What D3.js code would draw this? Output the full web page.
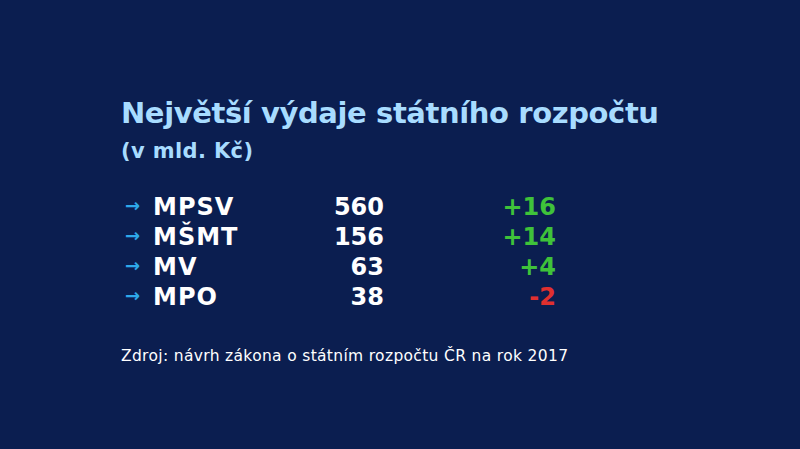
<!DOCTYPE html><html><head><meta charset="utf-8">
<script src="https://cdn.jsdelivr.net/npm/d3@7"></script>
<style>body{margin:0;background:#0b1e50}svg{display:block}</style></head><body>
<script>
const categories=["MPSV","MŠMT","MV","MPO"];
const values=[560,156,63,38];
const changes=[16,14,4,-2];
const title="Největší výdaje státního rozpočtu";
const subtitle="(v mld. Kč)";
const source="Zdroj: návrh zákona o státním rozpočtu ČR na rok 2017";

const svg=d3.select("body").append("svg").attr("width",800).attr("height",449);
svg.append("rect").attr("width",800).attr("height",449).attr("fill","#0b1e50");
const F="'DejaVu Sans', sans-serif";
svg.append("text").attr("x",121).attr("y",123).attr("font-family",F).attr("font-weight",700)
 .attr("font-size",29).attr("fill","#a8dcff").attr("textLength",538).text(title);
svg.append("text").attr("x",121).attr("y",158).attr("font-family",F).attr("font-weight",700)
 .attr("font-size",21).attr("fill","#a8dcff").attr("textLength",132).text(subtitle);
const y=d3.scalePoint().domain(categories).range([215,305]);
const g=svg.selectAll("g.row").data(categories).join("g").attr("transform",d=>`translate(0,${y(d)})`);
g.append("text").attr("x",125).attr("font-family",F).attr("font-weight",700).attr("font-size",18)
 .attr("fill","#2ea8ea").attr("y",-3).text("→");
g.append("text").attr("x",153).attr("font-family",F).attr("font-weight",700).attr("font-size",24)
 .attr("fill","#fff").attr("letter-spacing",1).text(d=>d);
g.append("text").attr("x",384).attr("text-anchor","end").attr("font-family",F).attr("font-weight",700).attr("font-size",24)
 .attr("fill","#fff").text((d,i)=>values[i]);
g.append("text").attr("x",556).attr("text-anchor","end").attr("font-family",F).attr("font-weight",700).attr("font-size",24)
 .attr("fill",(d,i)=>changes[i]<0?"#e0302f":"#3fc23a").text((d,i)=>changes[i]<0?"-"+Math.abs(changes[i]):"+"+changes[i]);
svg.append("text").attr("x",121).attr("y",361).attr("font-family",F).attr("font-size",15.5)
 .attr("fill","#fff").attr("textLength",447).text(source);
</script></body></html>
